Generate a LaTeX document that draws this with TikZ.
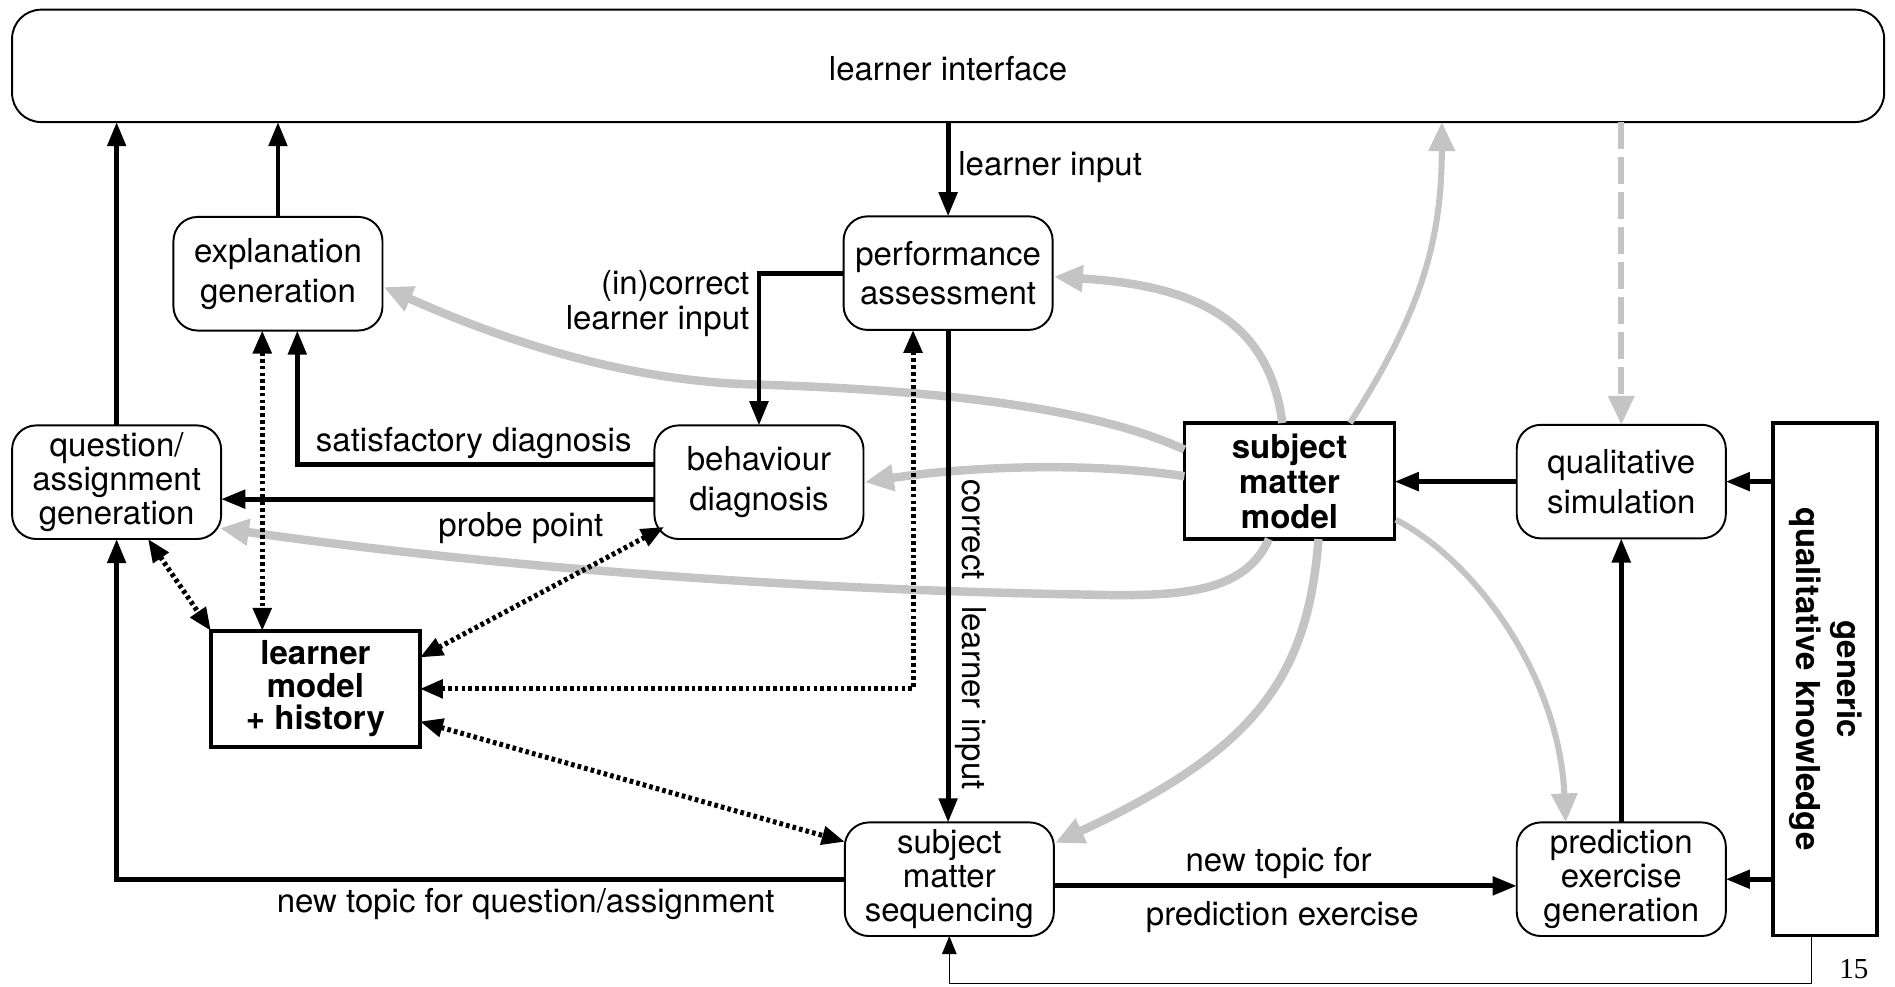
\documentclass[tikz,border=0pt]{standalone}
\usepackage{fontspec}
\setmainfont{TeX Gyre Heros}
\newfontfamily\pagenumfont{Liberation Serif}
\usetikzlibrary{arrows.meta}
\definecolor{linkgray}{RGB}{196,196,196}

\begin{document}
\begin{tikzpicture}[x=1pt,y=-1pt,
  every node/.style={inner sep=0pt, outer sep=0pt},
  txt/.style={font=\fontsize{27.3pt}{29pt}\selectfont},
  rbox/.style={draw, line width=1.6pt, rounded corners=20pt, minimum width=173pt,
    minimum height=94pt, align=center, font=\fontsize{27.3pt}{33pt}\selectfont},
  rboxthree/.style={rbox, font=\fontsize{27.3pt}{28pt}\selectfont},
  sbox/.style={draw, line width=3pt, align=center,
    font=\bfseries\fontsize{27.3pt}{29pt}\selectfont},
  flow/.style={line width=4pt, arrows={-Triangle[length=20pt,width=15pt]}},
  thinflow/.style={line width=1.2pt, arrows={-Triangle[length=15pt,width=12pt]}},
  dotlink/.style={line width=4.2pt, dash pattern=on 3pt off 2.6pt,
    arrows={Triangle[length=19pt,width=15pt]-Triangle[length=19pt,width=15pt]}},
  graylink/.style={draw=linkgray, line width=7pt,
    arrows={-Triangle[length=24pt,width=21pt]}},
  graythin/.style={graylink, line width=5pt},
]
\useasboundingbox (0,0) rectangle (1568,816);

% ---- components ----
\node[draw, line width=1.6pt, rounded corners=24pt, minimum width=1549pt,
  minimum height=93pt, font=\fontsize{27.3pt}{32pt}\selectfont,
  text height=24pt, text depth=0pt] (ui) at (784.5,54.5) {learner interface};

\node[rbox] (ex) at (230,226.5) {explanation\\generation};
\node[rbox] (pa) at (784.5,226) {performance\\assessment};
\node[rboxthree] (qa) at (96.5,399) {question/\\assignment\\generation};
\node[rbox] (bd) at (628,399) {behaviour\\diagnosis};
\node[sbox, minimum width=174pt, minimum height=96pt] (smm) at (1067,398) {subject\\matter\\model};
\node[rbox] (qs) at (1341.5,398.5) {qualitative\\simulation};
\node[sbox, font=\bfseries\fontsize{27.3pt}{27pt}\selectfont,
  minimum width=173pt, minimum height=96pt] (lm) at (261,570) {learner\\model\\+ history};
\node[rboxthree] (sms) at (785.5,727.5) {subject\\matter\\sequencing};
\node[rboxthree] (pe) at (1341.5,727.5) {prediction\\exercise\\generation};
\node[sbox, minimum width=86pt, minimum height=424pt,
  font=\bfseries\fontsize{27.3pt}{34pt}\selectfont] (gk) at (1510,562)
  {\rotatebox{-90}{\begin{tabular}{@{}c@{}}generic\\qualitative knowledge\end{tabular}}};

% ---- labels ----
\node[txt, anchor=west] (lblin) at (793,138) {learner input};
\node[txt, anchor=east, align=right] (lblinc) at (620,251) {(in)correct\\learner input};
\node[txt] (lblsat) at (392,366.5) {satisfactory diagnosis};
\node[txt] (lblprobe) at (431,437) {probe point};
\node[txt, rotate=-90] (lblcorr) at (803.5,525) {correct\hspace{0.8em}learner input};
\node[txt] (lblqa) at (435,748.3) {new topic for question/assignment};
\node[txt] (lbltop) at (1058,714.3) {new topic for};
\node[txt] (lblpred) at (1061,759) {prediction exercise};
\node[font=\pagenumfont\fontsize{24pt}{28pt}\selectfont, anchor=base] (pnum) at (1534,810) {15};

% ---- subject matter model links (grey) ----
\draw[graylink] ([shift={(-6,0)}]smm.north) .. controls (1050,262) and (985,236) ..
  ([shift={(1,3)}]pa.east);
\draw[graythin] ([shift={(50,0)}]smm.north) .. controls (1175,260) and (1193,200) ..
  ([shift={(408.5,0)}]ui.south);
\draw[graylink] ([shift={(0,-26)}]smm.west) .. controls (900,335) and (760,322) ..
  (620,318) .. controls (500,314) and (390,270) .. ([shift={(1,11)}]ex.east);
\draw[graylink] ([shift={(0,-4)}]smm.west) .. controls (900,382) and (800,386) ..
  ([shift={(1,0)}]bd.east);
\draw[graylink] ([shift={(-17,0)}]smm.south) .. controls (1030,490) and (980,494) ..
  (900,492) .. controls (650,488) and (400,468) .. ([shift={(-1,38)}]qa.east);
\draw[graylink] ([shift={(24,0)}]smm.south) .. controls (1082,560) and (1040,620) ..
  ([shift={(1,-30)}]sms.east);
\draw[graythin] ([shift={(1,32)}]smm.east) .. controls (1222,465) and (1290,560) ..
  ([shift={(-46,0)}]pe.north);
\draw[graythin, dash pattern=on 22pt off 7pt] (ui.south -| qs.north) -- (qs.north);

% ---- control flow (black) ----
\draw[flow] (qa.north) -- (qa.north |- ui.south);
\draw[flow] (ex.north) -- (ex.north |- ui.south);
\draw[flow] (ui.south) -- (pa.north);
\draw[flow] (pa.west) -| (bd.north);
\draw[flow] (pa.south) -- (pa.south |- sms.north);
\draw[flow] ([shift={(0,-15)}]bd.west) -| ([shift={(16,0)}]ex.south);
\draw[flow] ([shift={(0,14)}]bd.west) -- ([shift={(0,14)}]qa.east);
\draw[flow] (sms.west) -| (qa.south);
\draw[flow] ([shift={(0,5.5)}]sms.east) -- ([shift={(0,5.5)}]pe.west);
\draw[flow] (pe.north) -- (qs.south);
\draw[flow] (qs.west) -- (smm.east |- qs.west);
\draw[flow] (gk.west |- qs.east) -- (qs.east);
\draw[flow] (gk.west |- pe.east) -- (pe.east);
\draw[thinflow] ([shift={(-11,0)}]gk.south) -- ++(0,40) -| (sms.south);

% ---- learner model exchanges (dotted) ----
\coordinate (exd) at ([shift={(-13,0)}]ex.south);
\coordinate (pad) at ([shift={(-29,0)}]pa.south);
\draw[dotlink] (exd) -- (exd |- lm.north);
\draw[dotlink] (pad) |- (lm.east);
\draw[dotlink] ([shift={(26,0)}]qa.south) -- (lm.north west);
\draw[dotlink] ([shift={(8,-10)}]bd.south west) -- ([shift={(0,-26)}]lm.east);
\draw[dotlink] ([shift={(0,27)}]lm.east) -- ([shift={(0,-31)}]sms.west);
\end{tikzpicture}
\end{document}
